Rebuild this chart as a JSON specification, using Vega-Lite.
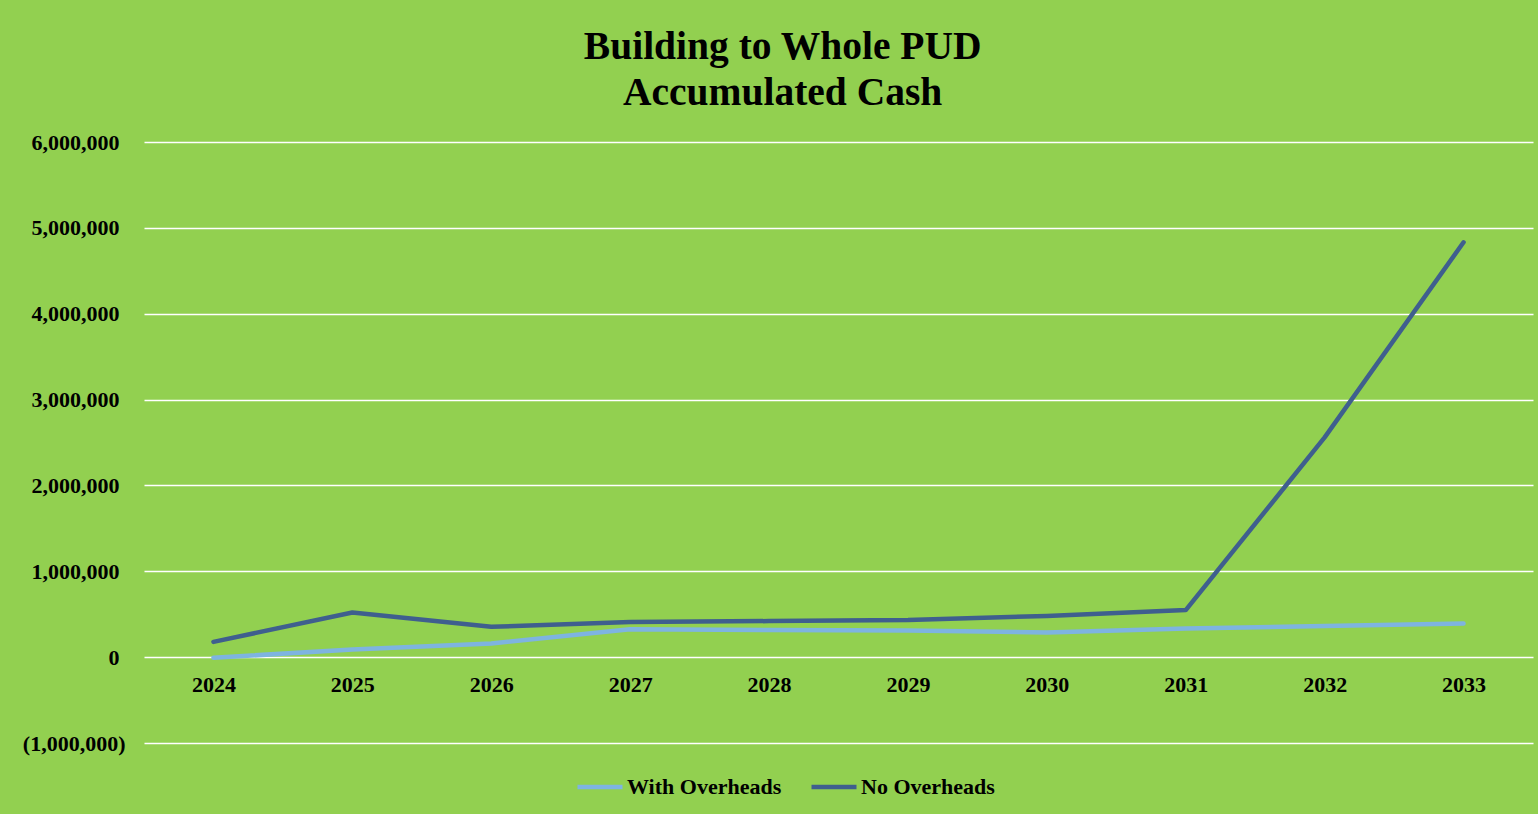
{
  "$schema": "https://vega.github.io/schema/vega-lite/v6.json",
  "autosize": {"type": "none"},
  "width": 1389,
  "height": 601,
  "padding": {"left": 144, "top": 142, "right": 5, "bottom": 71},
  "background": "#92D050",
  "config": {
    "view": {"stroke": null},
    "font": "Liberation Serif"
  },
  "title": {
    "text": ["Building to Whole PUD", "Accumulated Cash"],
    "frame": "bounds",
    "anchor": "middle",
    "dx": 5,
    "font": "Liberation Serif",
    "fontSize": 39.5,
    "fontWeight": "bold",
    "color": "#000000",
    "lineHeight": 46,
    "offset": 18
  },
  "data": {
    "values": [
      {"year": "2024", "series": "With Overheads", "cash": -8000},
      {"year": "2025", "series": "With Overheads", "cash": 90000},
      {"year": "2026", "series": "With Overheads", "cash": 160000},
      {"year": "2027", "series": "With Overheads", "cash": 326000},
      {"year": "2028", "series": "With Overheads", "cash": 315000},
      {"year": "2029", "series": "With Overheads", "cash": 310000},
      {"year": "2030", "series": "With Overheads", "cash": 288000},
      {"year": "2031", "series": "With Overheads", "cash": 334000},
      {"year": "2032", "series": "With Overheads", "cash": 362000},
      {"year": "2033", "series": "With Overheads", "cash": 392000},
      {"year": "2024", "series": "No Overheads", "cash": 178000},
      {"year": "2025", "series": "No Overheads", "cash": 520000},
      {"year": "2026", "series": "No Overheads", "cash": 353000},
      {"year": "2027", "series": "No Overheads", "cash": 410000},
      {"year": "2028", "series": "No Overheads", "cash": 420000},
      {"year": "2029", "series": "No Overheads", "cash": 432000},
      {"year": "2030", "series": "No Overheads", "cash": 480000},
      {"year": "2031", "series": "No Overheads", "cash": 548000},
      {"year": "2032", "series": "No Overheads", "cash": 2560000},
      {"year": "2033", "series": "No Overheads", "cash": 4832000}
    ]
  },
  "mark": {"type": "line", "strokeWidth": 4.5, "strokeCap": "round", "strokeJoin": "round"},
  "encoding": {
    "x": {
      "field": "year",
      "type": "ordinal",
      "scale": {"type": "point", "padding": 0.5},
      "axis": {
        "title": null,
        "orient": "bottom",
        "offset": -86,
        "domain": false,
        "ticks": false,
        "grid": false,
        "labelAngle": 0,
        "labelPadding": 17,
        "labelFont": "Liberation Serif",
        "labelFontSize": 22,
        "labelFontWeight": "bold",
        "labelColor": "#000000"
      }
    },
    "y": {
      "field": "cash",
      "type": "quantitative",
      "scale": {"domain": [-1000000, 6000000], "nice": false, "zero": false},
      "axis": {
        "title": null,
        "values": [-1000000, 0, 1000000, 2000000, 3000000, 4000000, 5000000, 6000000],
        "labelExpr": "datum.value < 0 ? '(' + format(-datum.value, ',') + ')' : format(datum.value, ',')",
        "domain": false,
        "ticks": false,
        "grid": true,
        "gridColor": "#FFFFFF",
        "gridWidth": 1.6,
        "gridOpacity": 1,
        "labelPadding": {"condition": {"test": "datum.value < 0", "value": 19}, "value": 25},
        "labelFont": "Liberation Serif",
        "labelFontSize": 22,
        "labelFontWeight": "bold",
        "labelColor": "#000000"
      }
    },
    "color": {
      "field": "series",
      "type": "nominal",
      "scale": {"domain": ["With Overheads", "No Overheads"], "range": ["#7EB4E0", "#3F5F8E"]},
      "legend": {
        "title": null,
        "orient": "none",
        "direction": "horizontal",
        "legendX": 431,
        "legendY": 620,
        "symbolType": "stroke",
        "symbolSize": 2025,
        "symbolStrokeWidth": 4.5,
        "labelOffset": 2,
        "columnPadding": 20,
        "labelFont": "Liberation Serif",
        "labelFontSize": 22,
        "labelFontWeight": "bold",
        "labelColor": "#000000"
      }
    }
  }
}
